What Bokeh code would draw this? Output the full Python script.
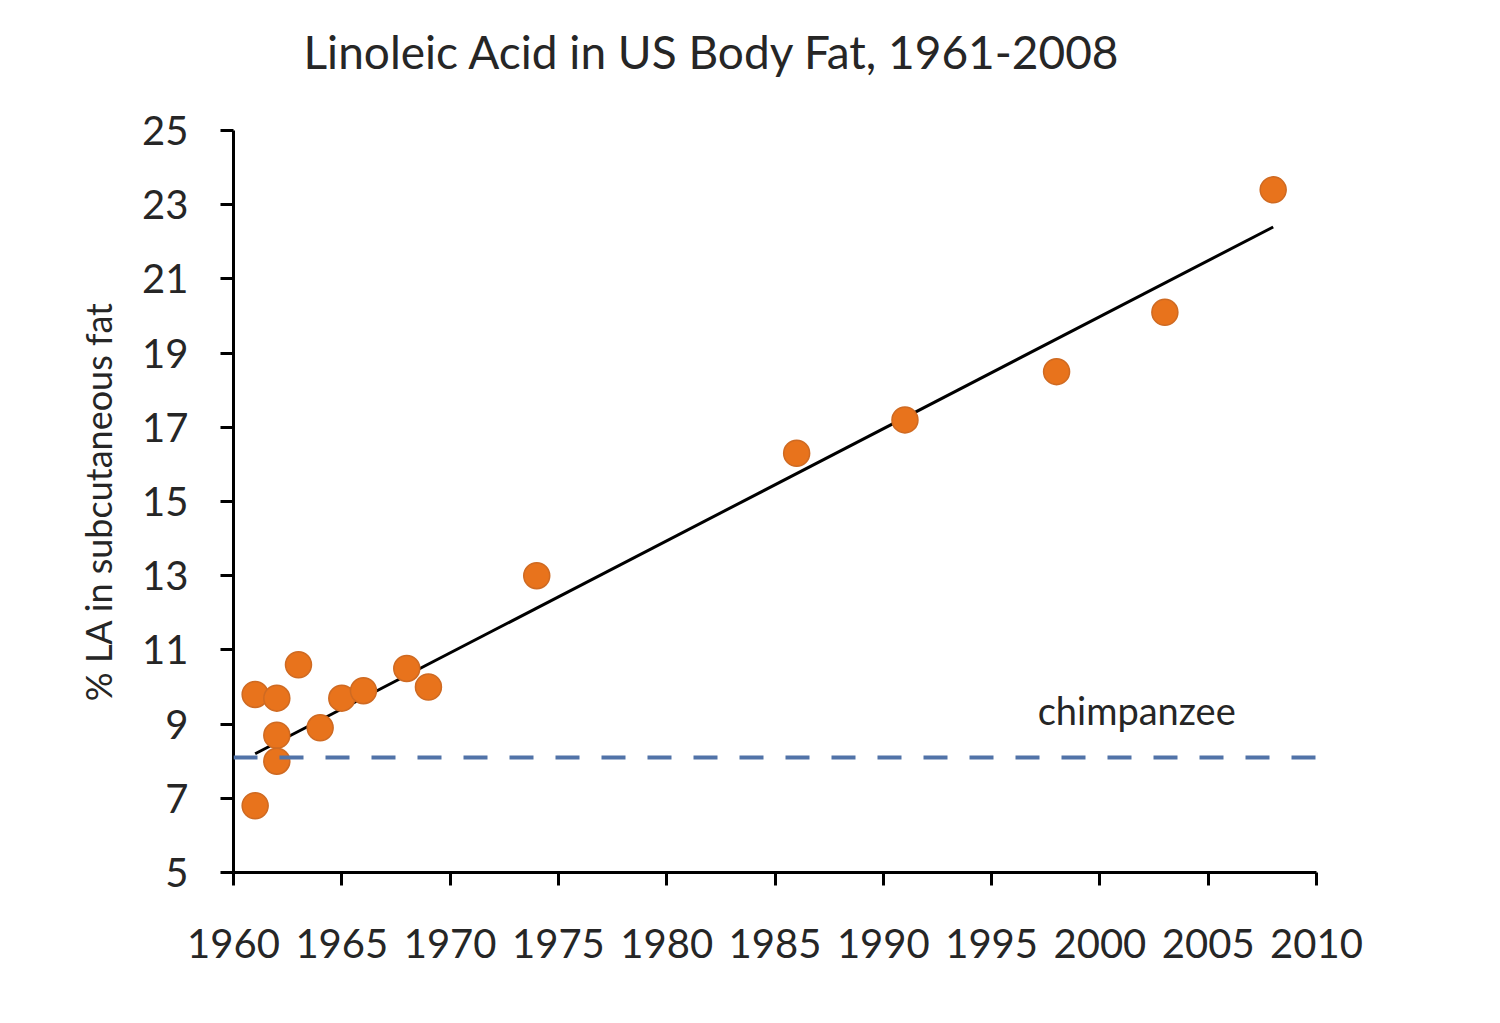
from bokeh.plotting import figure
from bokeh.models import FixedTicker, Range1d, Span, Label, ColumnDataSource, Title
from bokeh.embed import file_html
from bokeh.resources import INLINE

# ---- data ----
years = [1961, 1961, 1962, 1962, 1962, 1963, 1964, 1965, 1966, 1968, 1969,
         1974, 1986, 1991, 1998, 2003, 2008]
la_pct = [9.8, 6.8, 9.7, 8.7, 8.0, 10.6, 8.9, 9.7, 9.9, 10.5, 10.0,
          13.0, 16.3, 17.2, 18.5, 20.1, 23.4]
trend_years = [1961, 2008]
trend_values = [8.2, 22.4]
chimp_value = 8.1
chimp_label = "chimpanzee"
chimp_label_year = 2001.7
title_text = "Linoleic Acid in US Body Fat, 1961-2008"
x_ticks = [1960, 1965, 1970, 1975, 1980, 1985, 1990, 1995, 2000, 2005, 2010]
y_ticks = [5, 7, 9, 11, 13, 15, 17, 19, 21, 23, 25]

FONT = "Lato"
TXT = "#262626"

p = figure(width=1480, height=1000, output_backend="svg", toolbar_location=None,
           x_range=Range1d(1960, 2010), y_range=Range1d(5, 25),
           min_border_left=233, min_border_right=164, min_border_top=130,
           min_border_bottom=128, title_location=None)

# spacer between frame and title, then the title itself
p.add_layout(Title(text=" ", text_font_size="10px", standoff=34), "above")
p.add_layout(Title(text=title_text, align="left", offset=70, text_font=FONT,
                   text_font_size="46px", text_font_style="normal",
                   text_color=TXT, standoff=10), "above")

p.outline_line_color = None
p.xgrid.grid_line_color = None
p.ygrid.grid_line_color = None

for ax in (p.xaxis[0], p.yaxis[0]):
    ax.axis_line_width = 3
    ax.axis_line_color = "black"
    ax.major_tick_line_width = 3
    ax.major_tick_line_color = "black"
    ax.major_tick_in = 0
    ax.major_tick_out = 13
    ax.minor_tick_line_color = None
    ax.major_label_text_font = FONT
    ax.major_label_text_font_size = "40px"
    ax.major_label_text_color = TXT

p.xaxis.ticker = FixedTicker(ticks=x_ticks)
p.yaxis.ticker = FixedTicker(ticks=y_ticks)
p.xaxis.major_label_standoff = 43
p.yaxis.major_label_standoff = 32
p.yaxis.axis_label = "% LA in subcutaneous fat"
p.yaxis.axis_label_text_font = FONT
p.yaxis.axis_label_text_font_size = "36px"
p.yaxis.axis_label_text_font_style = "normal"
p.yaxis.axis_label_text_color = TXT
p.yaxis.axis_label_standoff = 19

# chimpanzee reference line
p.add_layout(Span(location=chimp_value, dimension="width", line_color="#5173a8",
                  line_width=4, line_dash="24 22"))
p.add_layout(Label(x=chimp_label_year, y=chimp_value, text=chimp_label,
                   text_font=FONT, text_font_size="38px", text_color=TXT,
                   text_align="center", y_offset=24))

# trend line
p.line(trend_years, trend_values, line_color="black", line_width=3)

# points
src = ColumnDataSource(dict(x=years, y=la_pct))
p.scatter("x", "y", source=src, size=26, fill_color="#e8731c",
          line_color="#cf6a22", line_width=1.5)

open("out.html", "w").write(file_html(p, INLINE))
